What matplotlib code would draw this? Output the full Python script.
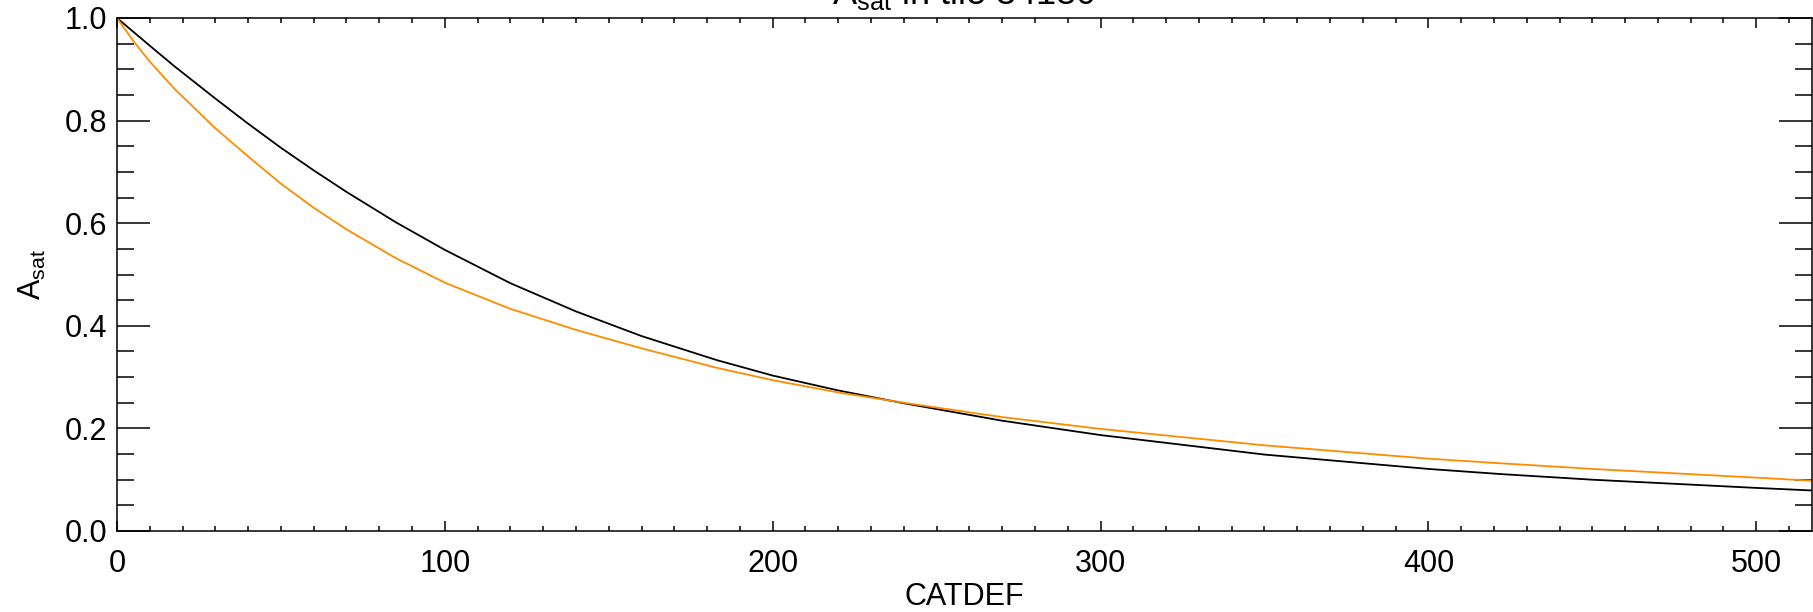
import matplotlib
matplotlib.use("Agg")
import matplotlib.pyplot as plt
from matplotlib.ticker import MultipleLocator, FormatStrFormatter

# valeurs
catdef = [0, 5, 10, 17.5, 30, 40, 50, 60, 70, 85, 100, 120, 140, 160, 183,
          200, 220, 240, 270, 300, 350, 400, 422, 450, 500, 517]
asat_black = [1.0, 0.973, 0.946, 0.906, 0.843, 0.794, 0.747, 0.703, 0.661, 0.602,
              0.548, 0.483, 0.428, 0.380, 0.333, 0.303, 0.274, 0.249, 0.215, 0.187,
              0.149, 0.121, 0.111, 0.100, 0.084, 0.079]
asat_orange = [1.0, 0.955, 0.915, 0.862, 0.785, 0.730, 0.677, 0.630, 0.588, 0.532,
               0.484, 0.433, 0.392, 0.356, 0.318, 0.294, 0.270, 0.250, 0.222, 0.199,
               0.167, 0.141, 0.132, 0.121, 0.104, 0.098]

plt.rcParams["font.family"] = ["Liberation Sans", "DejaVu Sans"]
plt.rcParams["mathtext.fontset"] = "custom"
plt.rcParams["mathtext.rm"] = "Liberation Sans"

fig = plt.figure(figsize=(18.13, 6.12), dpi=100)
ax = fig.add_axes([117 / 1813, 1 - 531 / 612, (1812 - 117) / 1813, (531 - 18) / 612])

ax.plot(catdef, asat_black, color="black", linewidth=1.3, solid_joinstyle="round")
ax.plot(catdef, asat_orange, color="darkorange", linewidth=1.3, solid_joinstyle="round")

ax.set_xlim(0, 517)
ax.set_ylim(0, 1.0)

ax.xaxis.set_major_locator(MultipleLocator(100))
ax.xaxis.set_minor_locator(MultipleLocator(10))
ax.yaxis.set_major_locator(MultipleLocator(0.2))
ax.yaxis.set_minor_locator(MultipleLocator(0.05))
ax.yaxis.set_major_formatter(FormatStrFormatter("%.1f"))

ax.tick_params(axis="both", which="both", direction="in", top=True, right=True,
               width=1.1, color="black")
ax.tick_params(axis="x", which="major", length=7.2, pad=13, labelsize=22)
ax.tick_params(axis="x", which="minor", length=3.6)
ax.tick_params(axis="y", which="major", length=23.8, pad=7, labelsize=22)
ax.tick_params(axis="y", which="minor", length=12)

for s in ax.spines.values():
    s.set_linewidth(1.1)

ax.set_xlabel("CATDEF", fontsize=22, labelpad=2)
ax.set_ylabel(r"A$_{\mathrm{sat}}$", fontsize=22, labelpad=12)

fig.text(ax.get_position().x0 + ax.get_position().width / 2, 1 - 12 / 612,
         r"A$_{\mathrm{sat}}$ in tile 34180", fontsize=26, ha="center", va="bottom")

fig.savefig("out.png", dpi=100)
